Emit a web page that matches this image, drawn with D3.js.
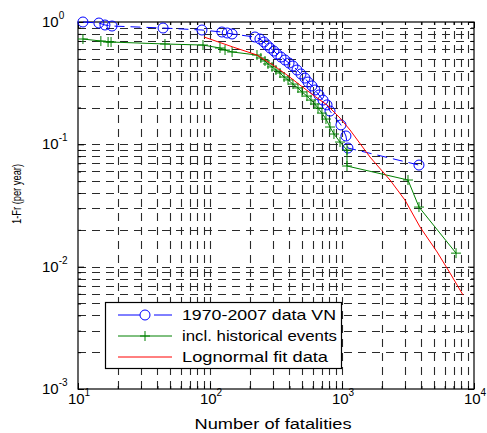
<!DOCTYPE html>
<html>
<head>
<meta charset="utf-8">
<script src="https://cdn.jsdelivr.net/npm/d3@7"></script>
<style>
  html, body { margin: 0; padding: 0; background: #fff; }
  svg { display: block; font-family: "Liberation Sans", Arial, sans-serif; }
</style>
</head>
<body>
<svg id="chart" width="487" height="433"></svg>
<script>
// ---- Data ----
const blueFatalities = [10.9, 14.4, 16.0, 18.1, 44.1, 86.9, 123, 135, 147, 219, 239, 256, 270, 285, 305, 322, 345, 370, 397, 425, 456, 489, 524, 552, 592, 624, 669, 718, 770, 811, 982, 1071, 1109, 3830];
const blueFreq       = [1.00, 0.981, 0.945, 0.927, 0.893, 0.860, 0.828, 0.813, 0.798, 0.754, 0.726, 0.686, 0.648, 0.613, 0.579, 0.547, 0.517, 0.489, 0.462, 0.437, 0.405, 0.376, 0.348, 0.323, 0.300, 0.278, 0.253, 0.230, 0.210, 0.187, 0.144, 0.117, 0.0933, 0.0677];

const greenFatalities = [10.9, 14.9, 16.9, 17.8, 45.6, 88.5, 119, 130, 147, 227, 243, 261, 275, 295, 316, 339, 364, 390, 425, 464, 498, 543, 582, 624, 658, 705, 756, 811, 869, 966, 1091, 1091, 3162, 3830, 7310];
const greenFreq       = [0.726, 0.699, 0.686, 0.686, 0.661, 0.648, 0.613, 0.590, 0.569, 0.537, 0.508, 0.480, 0.454, 0.429, 0.405, 0.383, 0.355, 0.336, 0.311, 0.289, 0.268, 0.248, 0.230, 0.2135, 0.198, 0.180, 0.161, 0.1385, 0.1214, 0.1044, 0.0898, 0.0665, 0.0511, 0.0307, 0.0129];

const redFatalities = [90.1, 149, 227, 300, 383, 481, 603, 769, 966, 1150, 1630, 2310, 3000, 3900, 5250, 6580, 8260];
const redFreq       = [0.754, 0.625, 0.537, 0.445, 0.369, 0.305, 0.253, 0.210, 0.164, 0.131, 0.0787, 0.0511, 0.0350, 0.0211, 0.0132, 0.00887, 0.00586];

const xTickValues = [10, 100, 1000, 10000];
const xTickExponents = ["1", "2", "3", "4"];
const yTickValues = [1, 0.1, 0.01, 0.001];
const yTickExponents = ["0", "-1", "-2", "-3"];

const seriesNames = ["1970-2007 data VN", "incl. historical events", "Lognormal fit data"];
const seriesColors = ["#0000ff", "#008000", "#ff0000"];
const xTitle = "Number of fatalities";
const yTitle = "1-Fr (per year)";

// ---- Layout ----
const L = 78, R = 474, T = 22, B = 389;
const svg = d3.select("#chart");

const x = d3.scaleLog().domain([10, 1e4]).range([L, R]);
const y = d3.scaleLog().domain([1e-3, 1]).range([B, T]);

const allX = x.ticks();
const allY = y.ticks();

// ---- Grid (dashed, major + minor) ----
const grid = svg.append("g").attr("stroke", "#2a2a2a").attr("stroke-width", 1.1)
  .attr("stroke-dasharray", "8,6").attr("fill", "none");
grid.selectAll("line.gx").data(allX.filter(v => v > 10 && v < 1e4)).join("line")
  .attr("x1", d => Math.round(x(d)) + 0.5).attr("x2", d => Math.round(x(d)) + 0.5)
  .attr("y1", B).attr("y2", T);
grid.selectAll("line.gy").data(allY.filter(v => v > 1e-3 && v < 1)).join("line")
  .attr("y1", d => Math.round(y(d)) + 0.5).attr("y2", d => Math.round(y(d)) + 0.5)
  .attr("x1", L).attr("x2", R);

// ---- Axes with inward ticks on all sides ----
function styleAxis(g) {
  g.select(".domain").remove();
  g.selectAll(".tick line").attr("stroke", "#000");
  g.selectAll(".tick text").remove();
}
const isMajor = v => Math.abs(Math.log10(v) - Math.round(Math.log10(v))) < 1e-9;
function addTicks(axisFn, scale, transform, values, size) {
  svg.append("g").attr("transform", transform)
    .call(axisFn(scale).tickValues(values).tickSizeInner(-size).tickSizeOuter(0).tickFormat(() => ""))
    .call(styleAxis);
}
const xMaj = allX.filter(isMajor), xMin = allX.filter(v => !isMajor(v));
const yMaj = allY.filter(isMajor), yMin = allY.filter(v => !isMajor(v));
addTicks(d3.axisBottom, x, `translate(0,${B})`, xMaj, 6);
addTicks(d3.axisBottom, x, `translate(0,${B})`, xMin, 3);
addTicks(d3.axisTop, x, `translate(0,${T})`, xMaj, 6);
addTicks(d3.axisTop, x, `translate(0,${T})`, xMin, 3);
addTicks(d3.axisLeft, y, `translate(${L},0)`, yMaj, 6);
addTicks(d3.axisLeft, y, `translate(${L},0)`, yMin, 3);
addTicks(d3.axisRight, y, `translate(${R},0)`, yMaj, 6);
addTicks(d3.axisRight, y, `translate(${R},0)`, yMin, 3);

// box
svg.append("rect").attr("x", L).attr("y", T).attr("width", R - L).attr("height", B - T)
  .attr("fill", "none").attr("stroke", "#000").attr("stroke-width", 1.2);

// ---- Tick labels (10^n) ----
xTickValues.forEach((v, i) => {
  const t = svg.append("text").attr("x", x(v) + 1).attr("y", 404)
    .attr("text-anchor", "middle").attr("font-size", 15).attr("fill", "#000");
  t.append("tspan").text("10");
  t.append("tspan").attr("dy", -8).attr("font-size", 10).text(xTickExponents[i]);
});
yTickValues.forEach((v, i) => {
  const t = svg.append("text").attr("x", 42).attr("y", y(v) + 5)
    .attr("text-anchor", "start").attr("font-size", 15).attr("fill", "#000");
  t.append("tspan").text("10");
  t.append("tspan").attr("dy", -8).attr("font-size", 10).text(yTickExponents[i]);
});

// ---- Axis titles ----
svg.append("text").attr("x", 273).attr("y", 429).attr("text-anchor", "middle")
  .attr("font-size", 14).attr("textLength", 157).attr("lengthAdjust", "spacingAndGlyphs").text(xTitle);
svg.append("text").attr("transform", `translate(21,194) rotate(-90)`).attr("text-anchor", "middle")
  .attr("font-size", 13).attr("textLength", 60).attr("lengthAdjust", "spacingAndGlyphs").text(yTitle);

// ---- Series ----
const line = d3.line().x(d => x(d[0])).y(d => y(d[1]));
const blue = d3.zip(blueFatalities, blueFreq);
const green = d3.zip(greenFatalities, greenFreq);
const red = d3.zip(redFatalities, redFreq);

const plot = svg.append("g");
// blue dashed with circles
plot.append("path").datum(blue).attr("d", line).attr("fill", "none")
  .attr("stroke", seriesColors[0]).attr("stroke-width", 1).attr("stroke-dasharray", "10,6");
plot.selectAll("circle.b").data(blue).join("circle")
  .attr("cx", d => x(d[0])).attr("cy", d => y(d[1])).attr("r", 5)
  .attr("fill", "none").attr("stroke", seriesColors[0]).attr("stroke-width", 1);
// green with plus markers
plot.append("path").datum(green).attr("d", line).attr("fill", "none")
  .attr("stroke", seriesColors[1]).attr("stroke-width", 1);
const plus = (sel, s) => sel.attr("d", d => `M${x(d[0]) - s},${y(d[1])}H${x(d[0]) + s}M${x(d[0])},${y(d[1]) - s}V${y(d[1]) + s}`);
plot.selectAll("path.g").data(green).join("path").attr("class", "g")
  .call(plus, 5).attr("stroke", seriesColors[1]).attr("stroke-width", 1).attr("fill", "none");
// red fit
plot.append("path").datum(red).attr("d", line).attr("fill", "none")
  .attr("stroke", seriesColors[2]).attr("stroke-width", 1);

// ---- Legend ----
const lg = svg.append("g");
lg.append("rect").attr("x", 105.5).attr("y", 302.5).attr("width", 236).attr("height", 66)
  .attr("fill", "#fff").attr("stroke", "#000").attr("stroke-width", 1.2);
const rowsY = [315, 336, 357];
const textLens = [154, 155, 146];
seriesNames.forEach((name, i) => {
  const yy = rowsY[i];
  const ln = lg.append("line").attr("x1", 118).attr("x2", 172).attr("y1", yy).attr("y2", yy)
    .attr("stroke", seriesColors[i]).attr("stroke-width", 1);
  if (i === 0) {
    ln.attr("stroke-dasharray", "22,14");
    lg.append("circle").attr("cx", 145).attr("cy", yy).attr("r", 5)
      .attr("fill", "none").attr("stroke", seriesColors[0]);
  }
  if (i === 1) {
    lg.append("path").attr("d", `M140,${yy}H150M145,${yy - 5}V${yy + 5}`)
      .attr("stroke", seriesColors[1]).attr("fill", "none");
  }
  lg.append("text").attr("x", 182).attr("y", yy + 5).attr("font-size", 15)
    .attr("textLength", textLens[i]).attr("lengthAdjust", "spacingAndGlyphs").text(name);
});
</script>
</body>
</html>
